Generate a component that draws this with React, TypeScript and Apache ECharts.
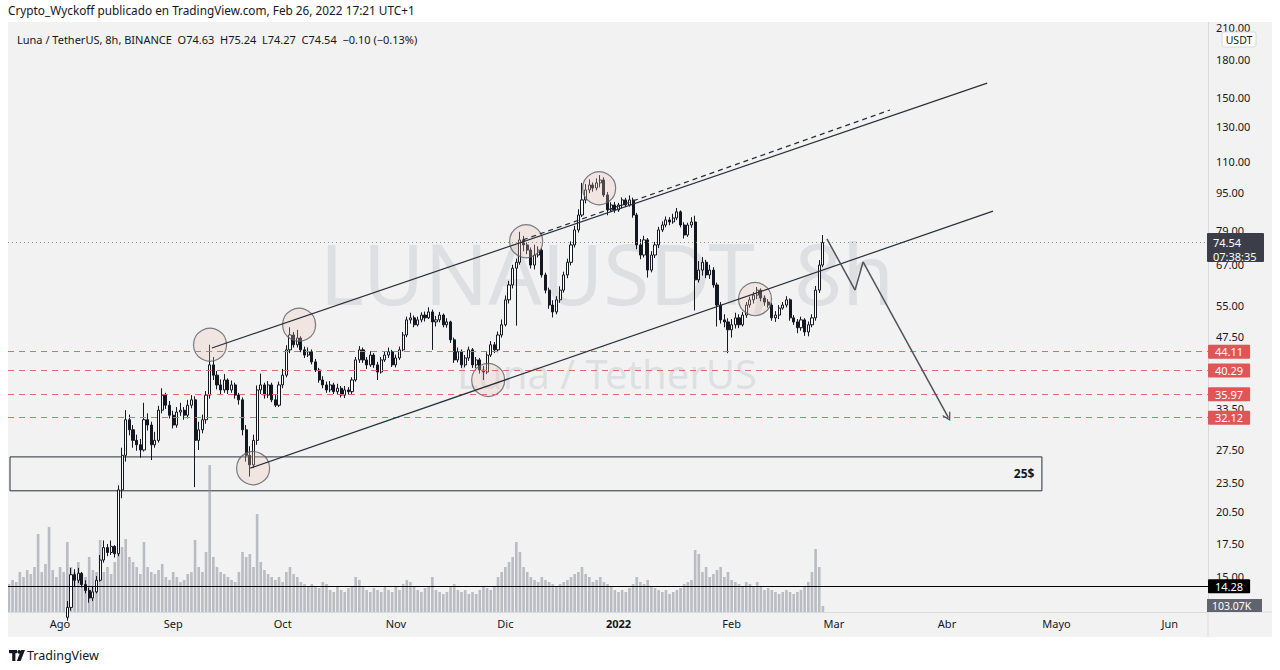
import React, { useEffect, useRef } from 'react';
import * as echarts from 'echarts';

const FONT = '"Noto Sans", "DejaVu Sans", sans-serif';
const INK = '#131722';

// ---- data (day offsets from 1 Aug 2021, one candle per day) ----
const START_DAY = -14;
const OPEN0 = 6.2;
const closes = [
  6.4, 6.9, 6.7, 7.3, 7.8, 7.5, 8.1, 8.6, 9.3, 9.9, 9.5, 10.4, 11.0, 11.5, 11.9, 12.3, 12.9,
  15.1, 14.7, 15.2, 14.4, 14.0, 13.5, 13.9, 14.7, 16.2, 17.2, 16.8, 17.3, 16.7,
  22.7, 26.8, 31.8, 30.3, 28.8, 28.2, 27.5, 31.8, 31.0, 28.2, 28.8, 33.3, 35.8, 34.1, 32.5, 31.0, 33.0, 33.3, 32.5, 34.1, 35.0,
  28.8, 30.3, 31.8, 35.8, 41.4, 39.4, 37.6, 36.7, 38.5, 36.7, 37.6, 35.8, 35.0, 30.3, 26.8, 25.6, 28.8,
  36.7, 37.6, 35.8, 37.6, 35.0, 34.1, 37.6, 39.4, 44.5, 47.8, 45.6, 47.1, 44.5, 43.4, 44.1, 42.0, 40.4, 38.5, 37.6, 36.7, 37.6, 36.4, 37.0, 35.8, 36.7, 36.4, 38.5,
  42.4, 44.5, 42.4, 41.4, 43.4, 41.4, 40.0, 42.4, 43.4, 44.1, 41.4, 42.8, 44.5, 47.8, 51.4, 51.9, 50.2, 51.4, 52.6, 51.9, 53.4,
  50.9, 51.4, 52.6, 50.2, 50.9, 46.7, 42.4, 44.1, 41.4, 42.8, 44.5, 41.4, 42.4, 40.4, 40.0, 43.4, 45.6, 44.5, 47.8, 50.2, 56.6, 60.8, 65.9,
  67.8, 75.5, 73.7, 71.9, 66.9, 70.2, 71.9, 63.8, 59.3, 55.2, 53.4, 56.6, 59.3, 63.8, 67.8, 73.7, 79.2, 85.1, 91.5, 96.0, 98.3, 96.9, 99.3, 100.7,
  93.7, 87.2, 89.3, 87.2, 89.3, 91.5, 89.3, 91.5, 85.1, 73.7, 70.2, 75.5, 65.3, 70.2, 73.7, 79.2, 81.1, 83.1, 82.3, 83.9, 86.4, 81.1, 77.3, 81.1, 82.3,
  62.3, 65.3, 67.8, 63.8, 65.3, 60.8, 55.2, 51.4, 50.9, 49.0, 50.2, 51.9, 50.2, 52.6, 55.2, 56.6, 57.9, 59.3, 57.1, 56.0, 55.2, 51.9, 52.6, 54.4, 55.2, 56.6, 51.9, 50.9, 49.5, 51.4, 48.5, 50.2, 51.9, 59.3, 66.9, 74.54,
];
const highs = [
  6.6, 7.1, 7.0, 7.5, 8.0, 7.9, 8.3, 8.9, 9.5, 10.2, 10.1, 10.6, 11.3, 11.8, 12.2, 12.5, 13.3,
  15.6, 15.5, 15.6, 15.3, 14.7, 14.2, 14.3, 15.0, 16.6, 17.8, 17.5, 17.8, 17.4,
  23.2, 27.8, 33.3, 32.6, 31.0, 29.6, 29.0, 34.5, 32.8, 31.5, 30.0, 34.0, 37.0, 36.2, 34.8, 33.2, 33.8, 34.5, 33.8, 35.0, 35.8,
  35.6, 31.5, 32.6, 36.5, 45.6, 43.0, 40.2, 38.6, 39.6, 38.8, 38.4, 38.0, 36.2, 35.4, 31.0, 28.0, 29.6,
  37.5, 39.7, 38.0, 38.3, 38.0, 35.8, 38.2, 40.6, 45.5, 49.6, 48.5, 49.0, 47.5, 45.2, 45.0, 44.6, 42.6, 40.8, 39.2, 38.2, 38.3, 38.0, 37.8, 37.4, 37.4, 37.2, 39.0,
  43.0, 45.3, 45.0, 43.0, 44.2, 43.8, 42.0, 43.0, 44.2, 45.0, 44.5, 43.5, 45.2, 48.5, 52.2, 53.2, 52.5, 52.2, 53.3, 53.5, 54.6,
  54.0, 52.4, 53.4, 53.0, 51.8, 51.2, 47.2, 45.0, 44.6, 43.4, 45.2, 44.9, 43.0, 42.8, 41.2, 44.0, 46.4, 46.2, 48.6, 51.5, 57.8, 62.0, 67.0,
  69.0, 78.5, 77.0, 74.6, 72.8, 73.8, 73.2, 72.5, 64.5, 60.0, 56.5, 57.6, 60.4, 64.8, 69.0, 75.0, 80.8, 87.5, 99.3, 98.8, 101.0, 99.5, 101.5, 103.1,
  102.0, 95.0, 90.5, 90.6, 90.2, 92.6, 92.4, 93.5, 92.5, 86.0, 75.8, 77.0, 76.2, 71.5, 74.8, 80.4, 82.5, 84.5, 84.2, 85.6, 88.0, 87.0, 82.2, 82.0, 84.2,
  84.8, 68.2, 69.5, 68.6, 67.0, 66.2, 61.5, 56.0, 52.8, 51.8, 51.6, 53.2, 52.8, 53.4, 56.0, 57.5, 58.8, 60.2, 59.8, 57.8, 56.8, 55.8, 53.6, 55.2, 56.0, 57.6, 57.0, 52.6, 51.6, 52.2, 51.8, 51.0, 52.8, 60.5, 68.5, 77.3,
];
const lows = [
  6.0, 6.3, 6.5, 6.6, 7.2, 7.3, 7.4, 8.0, 8.5, 9.2, 9.3, 9.4, 10.3, 10.9, 11.3, 11.7, 12.1,
  12.7, 14.3, 14.5, 14.2, 13.8, 13.2, 13.3, 13.8, 14.6, 16.0, 16.5, 16.6, 16.4,
  16.5, 21.8, 26.0, 29.5, 27.8, 27.4, 26.5, 27.3, 30.2, 26.2, 27.8, 28.5, 32.8, 33.5, 32.0, 30.5, 30.6, 32.4, 31.8, 32.0, 33.6,
  23.0, 27.5, 29.8, 31.2, 35.2, 38.5, 36.8, 35.8, 36.2, 36.0, 36.2, 35.2, 34.2, 29.5, 26.0, 24.2, 25.2,
  28.2, 36.0, 35.2, 35.3, 34.6, 33.8, 33.8, 37.0, 39.0, 43.8, 45.0, 45.0, 44.0, 42.8, 43.0, 41.5, 40.0, 38.0, 37.0, 36.2, 36.3, 36.0, 35.9, 35.4, 35.3, 35.9, 36.0,
  38.2, 41.8, 41.8, 40.6, 41.0, 40.8, 38.5, 39.7, 42.0, 42.8, 41.0, 40.9, 42.4, 44.2, 47.3, 50.5, 49.6, 49.8, 50.8, 51.0, 51.6,
  44.5, 49.8, 50.8, 49.6, 49.5, 46.0, 41.8, 41.9, 40.8, 40.9, 42.2, 40.8, 40.8, 39.7, 38.5, 39.6, 43.0, 43.8, 44.0, 47.2, 49.8, 55.6, 59.8,
  50.0, 67.0, 71.5, 70.5, 65.8, 65.5, 69.4, 63.0, 58.4, 54.2, 52.0, 52.8, 55.8, 58.6, 62.8, 66.8, 72.8, 78.2, 84.3, 90.0, 94.5, 95.2, 95.8, 97.2,
  92.8, 85.0, 86.5, 86.0, 86.4, 88.0, 88.4, 88.6, 84.0, 72.2, 68.8, 69.4, 63.0, 64.6, 69.2, 72.6, 78.4, 80.2, 81.0, 81.6, 83.0, 80.2, 76.0, 76.6, 80.0,
  53.8, 61.5, 63.6, 62.8, 62.6, 60.0, 49.8, 50.5, 49.6, 43.8, 47.2, 49.3, 49.4, 49.8, 51.9, 54.5, 55.6, 56.8, 56.2, 55.0, 54.5, 51.2, 50.9, 51.6, 54.0, 54.6, 51.2, 50.2, 48.2, 48.8, 47.6, 47.5, 49.6, 51.2, 58.5, 66.2,
];
const volumes = [
  476, 544, 510, 680, 595, 714, 646, 765, 1326, 680, 816, 1445, 714, 595, 765, 680, 1190,
  765, 680, 850, 646, 595, 935, 714, 680,
  1224, 680, 765, 646, 850,
  1020, 1105, 1241, 935, 850, 765, 646,
  1190, 765, 680, 646, 714, 816, 595, 544, 680, 595, 510, 544, 646, 680,
  1224, 765, 680, 1020, 2499,
  935, 765, 680, 646, 595, 544, 510, 680, 1020, 935, 986, 765,
  1666, 850, 714, 646, 595, 544, 595, 510, 680, 765, 646, 595,
  510, 476, 425, 476, 442, 408, 510, 476, 374, 340, 425, 374, 340, 408, 442,
  595, 544, 425, 374, 340, 408, 374, 340, 425, 374, 340, 425, 374, 476, 544, 510, 425, 374, 340, 408, 442,
  595, 374, 340, 306, 340, 425, 476, 374, 340, 374, 306, 340, 306, 374, 425, 408, 374, 425,
  595, 680, 765, 850, 935, 1190, 1020, 765, 680, 595, 544, 510, 595, 544, 510, 476, 425, 476, 510, 544, 595, 646, 680, 765,
  646, 595, 510, 544, 595, 510, 476, 425, 374, 340, 374, 340, 408, 476, 595, 510, 476, 544, 442, 408, 374, 340, 374, 306, 340, 374, 408, 476, 510, 544,
  1054, 986, 680, 765, 595, 646, 714, 765, 595, 680, 544, 510, 476, 442, 510, 476, 425, 510, 442, 374, 408, 374, 340, 306, 340, 374, 340, 306, 340, 374, 425, 510, 680, 1071, 765, 103.07,
];

const monthTicks = [0, 31, 61, 92, 122, 153, 184, 212, 243, 273, 304];
const monthNames = ['Ago', 'Sep', 'Oct', 'Nov', 'Dic', '2022', 'Feb', 'Mar', 'Abr', 'Mayo', 'Jun'];
const priceTicks = [15, 17.5, 20.5, 23.5, 27.5, 33.5, 47.5, 55, 67, 79, 95, 110, 130, 150, 180, 210];

const levelLines = [44.11, 40.29, 35.97, 32.12];
const supportLevel = 14.28;
const lastPrice = 74.54;
const lastVolumeLabel = '103.07K';
const countdown = '07:38:35';

const circles = [
  [41.1, 45.6], [65.5, 50.2], [52.9, 25.2], [117.3, 38.5], [127.7, 75.0], [147.7, 96.8], [190.4, 56.8],
];
const upperChannel = [[41.6, 44.9], [254.0, 160.4]];
const lowerChannel = [[52.1, 25.2], [255.6, 86.7]];
const dashedChannel = [[126.8, 75.5], [227.4, 141.0]];
const arrowPath = [[210.1, 75.9], [217.8, 59.3], [220.0, 67.9], [243.3, 32.2]];
const zoneBox = [[-13.7, 26.6], [269.0, 22.6]];
const zoneLabel = '25$';

const X_MIN = -14.25;
const X_MAX = 314.5;
const Y_MIN = 12.62;
const Y_MAX = 217.3;
const VOL_MAX = 10064;

function buildOption() {
  const candleData = closes.map((c, i) => {
    const o = i === 0 ? OPEN0 : closes[i - 1];
    const h = Math.max(highs[i], o, c);
    const l = Math.min(lows[i], o, c);
    return [START_DAY + i, o, c, l, h];
  });
  const volData = volumes.map((v, i) => [START_DAY + i, v]);

  const segLine = (pts: number[][], style: any, endSymbol = 'none') => [
    { coord: pts[0], symbol: 'none', lineStyle: style },
    { coord: pts[1], symbol: endSymbol },
  ];
  const channelStyle = { color: '#2a2e39', width: 1.2, type: 'solid' };
  const arrowStyle = { color: '#50535c', width: 1.5, type: 'solid' };

  const boxLabel = (text: string, bg: string) => ({
    show: true,
    position: 'end',
    distance: 0,
    formatter: text,
    color: '#ffffff',
    backgroundColor: bg,
    padding: [2, 7, 1, 7],
    fontSize: 11,
    fontFamily: FONT,
    borderRadius: 1,
  });

  const markLineData: any[] = [
    ...levelLines.map((v) => ({
      yAxis: v,
      lineStyle: { color: '#e06b6b', type: [6, 5], width: 1 },
      label: boxLabel(v.toFixed(2), '#e05656'),
    })),
    {
      yAxis: supportLevel,
      lineStyle: { color: '#000000', type: 'solid', width: 1 },
      label: boxLabel(supportLevel.toFixed(2), '#000000'),
    },
    {
      yAxis: lastPrice,
      lineStyle: { color: '#8a8d96', type: [1, 3], width: 1 },
      label: { show: false },
    },
    segLine(upperChannel, channelStyle),
    segLine(lowerChannel, channelStyle),
    segLine(dashedChannel, { color: '#2a2e39', width: 1.2, type: [5, 4] }),
    segLine([arrowPath[0], arrowPath[1]], arrowStyle),
    segLine([arrowPath[1], arrowPath[2]], arrowStyle),
    segLine([arrowPath[2], arrowPath[3]], arrowStyle, 'path://M5,0L10,8.5L9,9.6L5,2.8L1,9.6L0,8.5Z'),
  ];

  return {
    animation: false,
    backgroundColor: '#f2f2f2',
    textStyle: { fontFamily: FONT },
    grid: { left: 8, right: 72, top: 20, bottom: 58, containLabel: false },
    xAxis: {
      type: 'value',
      min: X_MIN,
      max: X_MAX,
      axisLine: { show: true, onZero: false, lineStyle: { color: '#d9dadd', width: 1 } },
      axisTick: { show: false },
      splitLine: { show: false },
      axisLabel: {
        customValues: monthTicks,
        margin: 6,
        color: INK,
        fontSize: 11,
        fontFamily: FONT,
        formatter: (v: number) => {
          const i = monthTicks.indexOf(Math.round(v));
          const n = i >= 0 ? monthNames[i] : '';
          return n === '2022' ? '{b|2022}' : n;
        },
        rich: { b: { fontWeight: 'bold', fontSize: 11, color: INK, fontFamily: FONT } },
      },
    },
    yAxis: [
      {
        type: 'log',
        position: 'right',
        min: Y_MIN,
        max: Y_MAX,
        axisLine: { show: true, onZero: false, lineStyle: { color: '#d9dadd', width: 1 } },
        axisTick: { show: false },
        minorTick: { show: false },
        splitLine: { show: false },
        axisLabel: {
          customValues: priceTicks,
          margin: 8,
          color: INK,
          fontSize: 11,
          fontFamily: FONT,
          formatter: (v: number) => Number(v).toFixed(2),
        },
      },
      {
        type: 'value',
        min: 0,
        max: VOL_MAX,
        show: false,
        axisLine: { show: false, onZero: false },
      },
    ],
    series: [
      {
        type: 'bar',
        name: 'Volume',
        yAxisIndex: 1,
        data: volData,
        barWidth: 2.6,
        itemStyle: { color: 'rgba(140,144,156,0.55)' },
        silent: true,
        z: 1,
      },
      {
        type: 'candlestick',
        name: 'LUNAUSDT',
        yAxisIndex: 0,
        data: candleData,
        encode: { x: 0, y: [1, 2, 3, 4] },
        barWidth: 2.6,
        itemStyle: {
          color: '#ffffff',
          color0: INK,
          borderColor: INK,
          borderColor0: INK,
          borderWidth: 1,
        },
        silent: true,
        z: 2,
      },
      {
        type: 'scatter',
        name: 'marks',
        yAxisIndex: 0,
        data: circles,
        symbol: 'circle',
        symbolSize: 33,
        clip: false,
        silent: true,
        z: 3,
        itemStyle: { color: 'rgba(236,196,184,0.35)', borderColor: '#5b5e66', borderWidth: 1.2 },
        markLine: {
          silent: true,
          animation: false,
          symbol: ['none', 'none'],
          symbolSize: 9,
          label: { show: false },
          data: markLineData,
        },
        markArea: {
          silent: true,
          itemStyle: { color: 'rgba(0,0,0,0)', borderColor: '#2a2e39', borderWidth: 1 },
          label: {
            show: true,
            position: 'insideRight',
            distance: 8,
            formatter: zoneLabel,
            color: INK,
            fontSize: 12,
            fontWeight: 'bold',
            fontFamily: FONT,
          },
          data: [[{ coord: zoneBox[0] }, { coord: zoneBox[1] }]],
        },
      },
    ],
  };
}

function buildGraphics(py: number, vy: number) {
  const white = '#ffffff';
  return [
    // watermark
    {
      type: 'text', z: 0, x: 607, y: 272,
      style: { text: 'LUNAUSDT, 8h', font: `84px ${FONT}`, fill: 'rgba(150,156,170,0.22)', align: 'center', verticalAlign: 'middle' },
    },
    {
      type: 'text', z: 0, x: 607, y: 373,
      style: { text: 'Luna / TetherUS', font: `40px ${FONT}`, fill: 'rgba(150,156,170,0.22)', align: 'center', verticalAlign: 'middle' },
    },
    // frame outside the chart
    { type: 'rect', z: 100, shape: { x: 0, y: 0, width: 1280, height: 22 }, style: { fill: white } },
    { type: 'rect', z: 100, shape: { x: 0, y: 637, width: 1280, height: 33 }, style: { fill: white } },
    { type: 'rect', z: 100, shape: { x: 0, y: 0, width: 8, height: 670 }, style: { fill: white } },
    { type: 'rect', z: 100, shape: { x: 1272, y: 0, width: 8, height: 670 }, style: { fill: white } },
    // separators
    { type: 'line', z: 4, shape: { x1: 1208, y1: 612, x2: 1272, y2: 612 }, style: { stroke: '#d9dadd', lineWidth: 1 } },
    { type: 'line', z: 4, shape: { x1: 1208, y1: 612, x2: 1208, y2: 637 }, style: { stroke: '#d9dadd', lineWidth: 1 } },
    // header
    {
      type: 'text', z: 101, x: 8, y: 10,
      style: { text: 'Crypto_Wyckoff publicado en TradingView.com, Feb 26, 2022 17:21 UTC+1', font: `11.8px ${FONT}`, fill: INK, verticalAlign: 'middle' },
    },
    {
      type: 'text', z: 101, x: 17, y: 39,
      style: { text: 'Luna / TetherUS, 8h, BINANCE  O74.63  H75.24  L74.27  C74.54  \u22120.10 (\u22120.13%)', font: `11px ${FONT}`, fill: INK, verticalAlign: 'middle' },
    },
    // USDT badge
    { type: 'rect', z: 50, shape: { x: 1222, y: 32, width: 34, height: 15, r: 2 }, style: { fill: '#ffffff', stroke: '#d6d8de', lineWidth: 1 } },
    { type: 'text', z: 51, x: 1239, y: 39.5, style: { text: 'USDT', font: `10.5px ${FONT}`, fill: INK, align: 'center', verticalAlign: 'middle' } },
    // last price badge
    { type: 'rect', z: 50, shape: { x: 1207, y: py - 9.5, width: 57, height: 29, r: 1 }, style: { fill: '#3b3e48' } },
    { type: 'text', z: 51, x: 1213, y: py, style: { text: lastPrice.toFixed(2), font: `11px ${FONT}`, fill: '#ffffff', verticalAlign: 'middle' } },
    { type: 'text', z: 51, x: 1213, y: py + 13.5, style: { text: countdown, font: `11px ${FONT}`, fill: '#ffffff', verticalAlign: 'middle' } },
    // volume badge
    { type: 'rect', z: 50, shape: { x: 1207, y: vy - 7, width: 55, height: 612 - (vy - 7) }, style: { fill: '#61646e' } },
    { type: 'text', z: 51, x: 1212, y: vy, style: { text: lastVolumeLabel, font: `10.5px ${FONT}`, fill: '#ffffff', verticalAlign: 'middle' } },
    // TradingView logo
    { type: 'rect', z: 101, shape: { x: 9, y: 650, width: 8, height: 3.2 }, style: { fill: INK } },
    { type: 'rect', z: 101, shape: { x: 12.2, y: 650, width: 3.2, height: 11 }, style: { fill: INK } },
    { type: 'circle', z: 101, shape: { cx: 19.2, cy: 651.8, r: 1.9 }, style: { fill: INK } },
    { type: 'polygon', z: 101, shape: { points: [[21.2, 650], [25, 650], [20.6, 661], [16.8, 661]] }, style: { fill: INK } },
    { type: 'text', z: 101, x: 27, y: 655.5, style: { text: 'TradingView', font: `12.5px ${FONT}`, fill: INK, verticalAlign: 'middle' } },
  ];
}

export default function App() {
  const ref = useRef<HTMLDivElement>(null);
  useEffect(() => {
    if (!ref.current) return;
    const chart = echarts.init(ref.current, null, { renderer: 'svg' });
    chart.setOption(buildOption() as any);
    const py = chart.convertToPixel({ yAxisIndex: 0 } as any, lastPrice) as unknown as number;
    const vy = chart.convertToPixel({ yAxisIndex: 1 } as any, volumes[volumes.length - 1]) as unknown as number;
    chart.setOption({ graphic: { elements: buildGraphics(py, vy) } } as any);
    return () => chart.dispose();
  }, []);
  return (
    <div
      ref={ref}
      style={{ position: 'fixed', left: 0, top: 0, width: 1280, height: 670, background: '#ffffff' }}
    />
  );
}
